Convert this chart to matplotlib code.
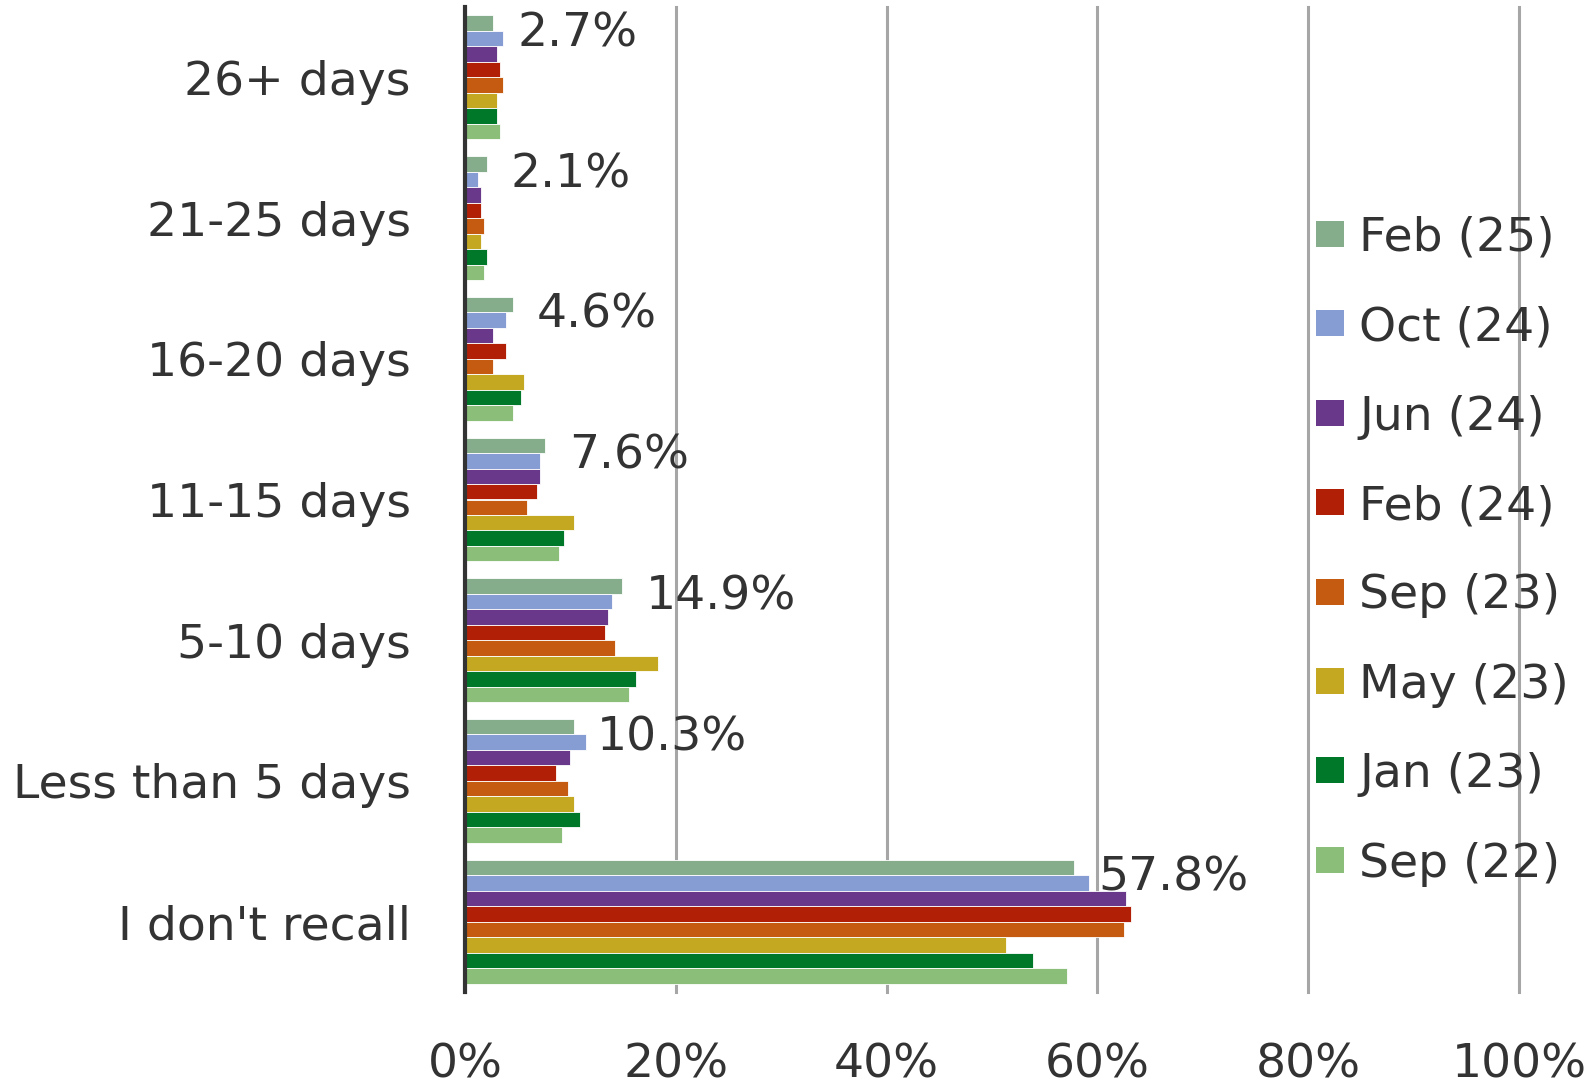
import numpy as np
import matplotlib.pyplot as plt
from matplotlib.patches import Patch

# response buckets, top to bottom
categories = ["26+ days", "21-25 days", "16-20 days", "11-15 days",
              "5-10 days", "Less than 5 days", "I don't recall"]

# survey waves (newest first)
waves = ["Feb (25)", "Oct (24)", "Jun (24)", "Feb (24)",
         "Sep (23)", "May (23)", "Jan (23)", "Sep (22)"]

# share of respondents (%) per wave, same order as categories
feb25 = [2.7, 2.1, 4.6, 7.6, 14.9, 10.3, 57.8]
oct24 = [3.6, 1.2, 3.9, 7.1, 13.9, 11.5, 59.2]
jun24 = [3.0, 1.5, 2.7, 7.1, 13.6, 10.0, 62.7]
feb24 = [3.3, 1.5, 3.9, 6.8, 13.3, 8.6, 63.2]
sep23 = [3.6, 1.8, 2.7, 5.9, 14.2, 9.8, 62.5]
may23 = [3.0, 1.5, 5.6, 10.3, 18.3, 10.3, 51.3]
jan23 = [3.0, 2.1, 5.3, 9.4, 16.2, 10.9, 53.9]
sep22 = [3.3, 1.8, 4.6, 8.9, 15.6, 9.2, 57.1]

series = [feb25, oct24, jun24, feb24, sep23, may23, jan23, sep22]
colors = ["#85AD8B", "#869DD3", "#69388A", "#B12006",
          "#C55A11", "#C4A821", "#00782A", "#8ABE79"]

text_col = "#333333"
plt.rcParams["font.family"] = ["DejaVu Sans"]

fig = plt.figure(figsize=(15.96, 10.89), dpi=100)
ax = fig.add_axes([465 / 1596, 1 - 992 / 1089, (1519 - 465) / 1596, (992 - 7) / 1089])

n = len(series)
bar_h = 0.88 / n
y = np.arange(len(categories))
for i, (vals, col) in enumerate(zip(series, colors)):
    pos = y - 0.44 + bar_h * (i + 0.5)
    ax.barh(pos, np.array(vals) / 100, height=bar_h, color=col,
            edgecolor="white", linewidth=0.6, zorder=3)

# value labels for the latest wave
for j, v in enumerate(feb25):
    ax.annotate(f"{v:.1f}%", xy=(v / 100, y[j] - 0.44 + bar_h * 1.2),
                xytext=(17, 0), textcoords="offset points",
                ha="left", va="center", fontsize=34, color=text_col, zorder=4)

ax.set_ylim(len(categories) - 0.5, -0.5)
ax.set_xlim(0, 1)
ax.set_yticks(y)
ax.set_yticklabels(categories)
ticks = np.arange(0, 1.01, 0.2)
ax.set_xticks(ticks)
ax.set_xticklabels([f"{int(round(t * 100))}%" for t in ticks])
ax.tick_params(axis="both", length=0, labelsize=34, colors=text_col)
ax.tick_params(axis="y", pad=39)
ax.tick_params(axis="x", pad=36)

ax.grid(axis="x", color="#A6A6A6", linewidth=2.2, zorder=0)
ax.set_axisbelow(True)
for gl in ax.get_xgridlines():
    gl.set_clip_on(False)
for s in ["top", "right", "bottom"]:
    ax.spines[s].set_visible(False)
ax.spines["left"].set_color("#333333")
ax.spines["left"].set_linewidth(3)
ax.spines["left"].set_zorder(5)

handles = [Patch(facecolor=c, edgecolor="none") for c in colors]
leg = fig.legend(handles, waves, loc="upper left",
                 bbox_to_anchor=(1297 / 1596, 1 - 197 / 1089),
                 frameon=False, fontsize=34, handlelength=0.6, handleheight=0.47,
                 handletextpad=0.32, labelspacing=0.94, borderaxespad=0)
for t in leg.get_texts():
    t.set_color(text_col)

fig.savefig("out.png", dpi=100)
